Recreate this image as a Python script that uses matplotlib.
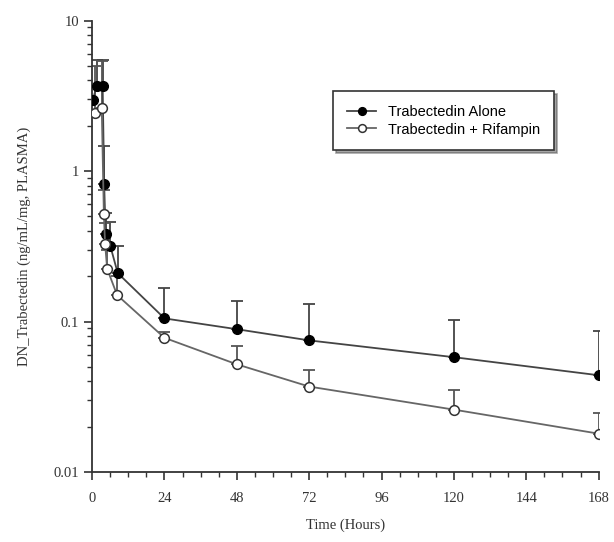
import matplotlib.pyplot as plt
import numpy as np

# Mean concentration-time profiles (hours, ng/mL/mg)
alone_t = [0.25, 1.5, 3.5, 4, 4.5, 6, 8.5, 24, 48, 72, 120, 168]
alone_v = [2.95, 3.7, 3.65, 0.82, 0.38, 0.32, 0.21, 0.105, 0.089, 0.075, 0.058, 0.044]
alone_hi = [2.95, 5.5, 5.5, 1.46, 0.53, 0.46, 0.32, 0.168, 0.137, 0.13, 0.103, 0.086]

rif_t = [1, 3.2, 3.9, 4.3, 5, 8.3, 24, 48, 72, 120, 168]
rif_v = [2.43, 2.64, 0.52, 0.33, 0.224, 0.15, 0.078, 0.052, 0.037, 0.026, 0.018]
rif_hi = [5.0, 5.4, 0.75, 0.45, 0.30, 0.20, 0.085, 0.069, 0.048, 0.035, 0.0248]

xticks = [0, 24, 48, 72, 96, 120, 144, 168]

plt.rcParams['font.family'] = ['Liberation Serif', 'DejaVu Serif']

fig = plt.figure(figsize=(6.14, 5.42), dpi=100)
ax = fig.add_axes([0.150, 0.129, 0.825, 0.833])


def upper_err(v, hi):
    v = np.array(v)
    return [np.zeros_like(v), np.array(hi) - v]


ax.errorbar(alone_t, alone_v, yerr=upper_err(alone_v, alone_hi), fmt='none',
            ecolor='#444444', elinewidth=1.3, capsize=4, capthick=1.3, zorder=2)
ax.errorbar(rif_t, rif_v, yerr=upper_err(rif_v, rif_hi), fmt='none',
            ecolor='#555555', elinewidth=1.3, capsize=4, capthick=1.3, zorder=2)

ax.plot(alone_t, alone_v, '-o', color='#444444', lw=1.3, ms=7,
        mfc='black', mec='black', label='Trabectedin Alone', zorder=3)
ax.plot(rif_t, rif_v, '-o', color='#666666', lw=1.3, ms=7,
        mfc='white', mec='#333333', mew=1.1, label='Trabectedin + Rifampin', zorder=3)

ax.set_yscale('log')
ax.set_ylim(0.01, 10)
ax.set_xlim(0, 168)
ax.set_xticks(xticks)
ax.set_xticks(np.arange(0, 169, 6), minor=True)
ax.set_yticks([0.01, 0.1, 1, 10])
ax.set_yticklabels(['0.01', '0.1', '1', '10'])

for s in ['top', 'right']:
    ax.spines[s].set_visible(False)
for s in ['left', 'bottom']:
    ax.spines[s].set_color('#333333')
    ax.spines[s].set_linewidth(1.3)

ax.tick_params(which='major', direction='out', length=6, width=1.2,
               color='#333333', labelsize=10.5, labelcolor='#333333')
ax.tick_params(which='minor', direction='out', length=3.5, width=1.0,
               color='#333333')
ax.tick_params(axis='x', pad=8)

ax.set_xlabel('Time (Hours)', fontsize=10.5, color='#333333', labelpad=10)
ax.set_ylabel('DN_Trabectedin (ng/mL/mg, PLASMA)', fontsize=10.5,
              color='#333333', labelpad=16)

leg = ax.legend(loc='upper left', bbox_to_anchor=(0.462, 0.86), frameon=True,
                fancybox=False, shadow=True, edgecolor='#333333',
                prop={'family': 'Liberation Sans', 'size': 10.5},
                handlelength=2.0, borderpad=0.95, labelspacing=0.25,
                markerscale=0.8)
leg.get_frame().set_linewidth(1.2)

fig.savefig('out.png', dpi=100)
